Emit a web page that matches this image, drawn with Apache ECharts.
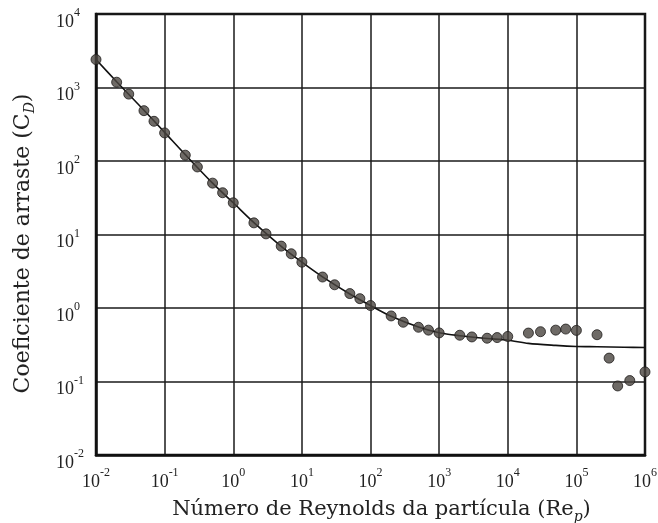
<!DOCTYPE html>
<html>
<head>
<meta charset="utf-8">
<script src="https://cdn.jsdelivr.net/npm/echarts@6/dist/echarts.min.js"></script>
<style>html,body{margin:0;padding:0;background:#fff}#c{width:658px;height:523px}</style>
</head>
<body>
<div id="c"></div>
<script>
// Measured data points (Re_p, C_D)
const reData = [0.01, 0.02, 0.03, 0.05, 0.07, 0.1, 0.2, 0.3, 0.5, 0.7, 1, 2, 3, 5, 7, 10, 20, 30, 50, 70, 100, 200, 300, 500, 700, 1000, 2000, 3000, 5000, 7000, 1e4, 2e4, 3e4, 5e4, 7e4, 1e5, 2e5, 3e5, 4e5, 6e5, 1e6];
const cdData = [2400, 1180, 813, 484, 347, 241, 120, 83, 50, 37, 27, 14.4, 10.2, 6.95, 5.47, 4.2, 2.64, 2.07, 1.57, 1.34, 1.08, 0.78, 0.64, 0.547, 0.50, 0.458, 0.426, 0.404, 0.388, 0.396, 0.41, 0.456, 0.476, 0.50, 0.517, 0.496, 0.433, 0.208, 0.087, 0.103, 0.135];
// Correlation curve
const reCurve = [0.01, 0.02, 0.05, 0.1, 0.2, 0.5, 1, 2, 5, 10, 20, 50, 100, 200, 500, 1000, 2000, 5000, 1e4, 2e4, 5e4, 1e5, 2e5, 5e5, 1e6];
const cdCurve = [2400, 1200, 490, 245, 122, 50, 27, 14.5, 6.9, 4.2, 2.65, 1.55, 1.08, 0.77, 0.55, 0.46, 0.42, 0.385, 0.365, 0.33, 0.31, 0.30, 0.297, 0.292, 0.29];
// Tick exponents
const xTickExps = [-2, -1, 0, 1, 2, 3, 4, 5, 6];
const yTickExps = [-2, -1, 0, 1, 2, 3, 4];

const FONT = 'Liberation Serif';
const NFONT = 'DejaVu Serif';
function powLabel(v, exps) {
  const e = Math.round(Math.log10(v));
  if (exps.indexOf(e) < 0) return '';
  return '{b|10}{s|' + e + '}';
}
const labelRich = {
  b: {fontFamily: FONT, fontSize: 18, color: '#222', lineHeight: 24, verticalAlign: 'bottom'},
  s: {fontFamily: FONT, fontSize: 12, color: '#222', lineHeight: 24, verticalAlign: 'top'}
};
function nameRich(size) {
  return {
    n: {fontFamily: NFONT, fontSize: size, color: '#222', lineHeight: 28, verticalAlign: 'middle'},
    i: {fontFamily: NFONT, fontSize: Math.round(size * 0.65), color: '#222', fontStyle: 'italic', lineHeight: 28, verticalAlign: 'bottom'}
  };
}

const chart = echarts.init(document.getElementById('c'), null, {renderer: 'canvas'});
chart.setOption({
  animation: false,
  backgroundColor: '#fff',
  grid: {left: 96, right: 13, top: 14, bottom: 68, containLabel: false, outerBoundsMode: 'none', show: true, borderColor: '#111', borderWidth: 2.5, backgroundColor: 'transparent'},
  xAxis: {
    type: 'log', logBase: 10, min: 0.01, max: 1e6, interval: 1,
    name: '{n|Número de Reynolds da partícula (Re}{i|p}{n|)}',
    nameLocation: 'middle', nameGap: 41,
    nameTextStyle: {rich: nameRich(21), padding: [0, 0, 0, 22]},
    axisLine: {show: true, lineStyle: {color: '#111', width: 2.5}},
    axisTick: {show: false}, minorTick: {show: false},
    splitLine: {show: true, lineStyle: {color: '#1a1a1a', width: 1.5}},
    axisLabel: {margin: 12, formatter: v => powLabel(v, xTickExps), rich: labelRich}
  },
  yAxis: {
    type: 'log', logBase: 10, min: 0.01, max: 1e4, interval: 1,
    name: '{n|Coeficiente de arraste (C}{i|D}{n|)}',
    nameLocation: 'middle', nameGap: 59, nameRotate: 90,
    nameTextStyle: {rich: nameRich(22), padding: [0, 18, 0, 0]},
    axisLine: {show: true, lineStyle: {color: '#111', width: 2.5}},
    axisTick: {show: false}, minorTick: {show: false},
    splitLine: {show: true, lineStyle: {color: '#1a1a1a', width: 1.5}},
    axisLabel: {margin: 40, align: 'left', padding: [10, 0, 0, 0], formatter: v => powLabel(v, yTickExps), rich: labelRich}
  },
  series: [
    {
      type: 'line', data: reCurve.map((x, k) => [x, cdCurve[k]]),
      showSymbol: false, smooth: 0.3, lineStyle: {color: '#111', width: 1.6}, z: 2
    },
    {
      type: 'scatter', data: reData.map((x, k) => [x, cdData[k]]),
      symbolSize: 10, itemStyle: {color: '#4a4540', borderColor: '#1e1c1a', borderWidth: 1}, z: 3
    }
  ]
});
</script>
</body>
</html>
